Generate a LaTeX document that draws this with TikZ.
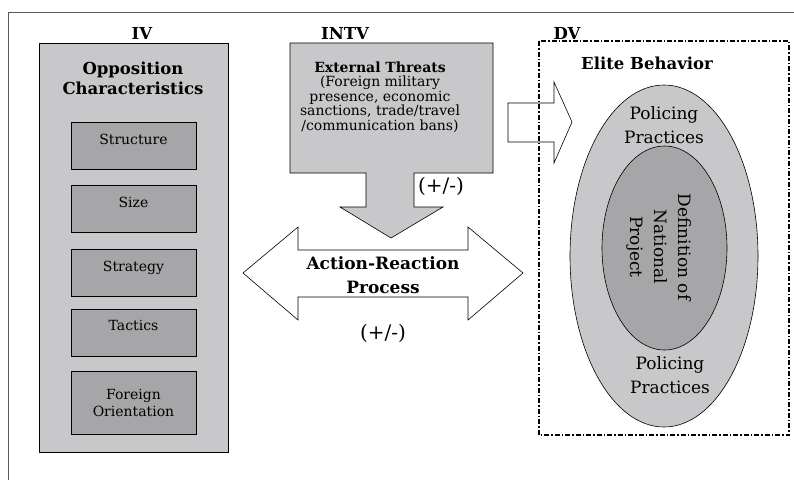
\documentclass[tikz,border=0pt]{standalone}
\usepackage{fontspec}
\setmainfont{DejaVu Serif}
\usetikzlibrary{positioning}
\definecolor{lightgrey}{RGB}{200,200,202}
\definecolor{midgrey}{RGB}{166,166,168}
\definecolor{framegrey}{RGB}{90,90,90}

\begin{document}
\begin{tikzpicture}[x=1pt, y=-1pt,
    panel/.style = {draw, fill=lightgrey, line width=0.6pt},
    item/.style = {draw, fill=midgrey, line width=0.6pt, minimum width=125pt,
      minimum height=47pt, align=center, font=\fontsize{14}{17}\selectfont},
    head/.style = {font=\bfseries\fontsize{16.5}{20}\selectfont, align=center},
    plain/.style = {font=\fontsize{14}{14.5}\selectfont, align=center},
    inner/.style = {font=\fontsize{17}{24}\selectfont, align=center},
    sign/.style = {font=\fontsize{20}{24}\selectfont}
  ]
  \useasboundingbox (0,0) rectangle (794,480);
  \draw[framegrey, line width=0.8pt] (794,12) -- (8,12) -- (8,480);

  % independent variable
  \node[head] (iv) at (142,33) {IV};
  \draw[panel] (39,43) rectangle (228,452);
  \node[head] (opp) at (133,78) {Opposition\\Characteristics};
  \node[item, text height=10pt, text depth=13pt] (structure) at (133.5,145.5) {Structure};
  \node[item, text height=10pt, text depth=13pt, below=16pt of structure] (size) {Size};
  \node[item, text height=10pt, text depth=13pt, below=16pt of size] (strategy) {Strategy};
  \node[item, text height=10pt, text depth=13pt, below=12pt of strategy] (tactics) {Tactics};
  \node[item, below=15pt of tactics, minimum height=63pt] (foreign) {Foreign\\Orientation};

  % intervening variable
  \node[head] (intv) at (345,33) {INTV};
  \draw[panel] (290,43) -- (493,43) -- (493,173) -- (414,173) -- (414,207)
    -- (443,207) -- (391,238) -- (340,207) -- (366,207) -- (366,173)
    -- (290,173) -- cycle;
  \node[plain] (threats) at (380,97) {\textbf{External Threats}\\(Foreign military\\presence, economic\\sanctions, trade/travel\\/communication bans)};
  \node[sign] (sign1) at (441,186) {(+/-)};

  % action-reaction
  \draw[fill=white, line width=0.6pt] (243,273) -- (298,227) -- (298,250)
    -- (468,250) -- (468,227) -- (523,273) -- (468,320) -- (468,297)
    -- (298,297) -- (298,320) -- cycle;
  \node[head, font=\bfseries\fontsize{17}{24}\selectfont] (action) at (383,275) {Action-Reaction\\Process};
  \node[sign] (sign2) at (383,333) {(+/-)};

  % dependent variable
  \draw[fill=white, line width=0.6pt] (508,103) -- (554,103) -- (554,82)
    -- (572,122) -- (554,163) -- (554,142) -- (508,142) -- cycle;
  \node[head] (dv) at (567,33) {DV};
  \draw[line width=1.1pt, dash pattern=on 5pt off 2pt on 1.5pt off 2pt] (539,41) rectangle (789,435);
  \node[head] (elite) at (647,63) {Elite Behavior};
  \draw[panel] (664,256) ellipse [x radius=94pt, y radius=171pt];
  \draw[fill=midgrey, line width=0.6pt] (664.5,248) ellipse [x radius=62.5pt, y radius=102pt];
  \node[inner] (police1) at (664,125) {Policing\\Practices};
  \node[inner] (police2) at (670,375) {Policing\\Practices};
  \node[inner, rotate=-90] (nation) at (659,247) {Definition of\\National\\Project};
\end{tikzpicture}
\end{document}
